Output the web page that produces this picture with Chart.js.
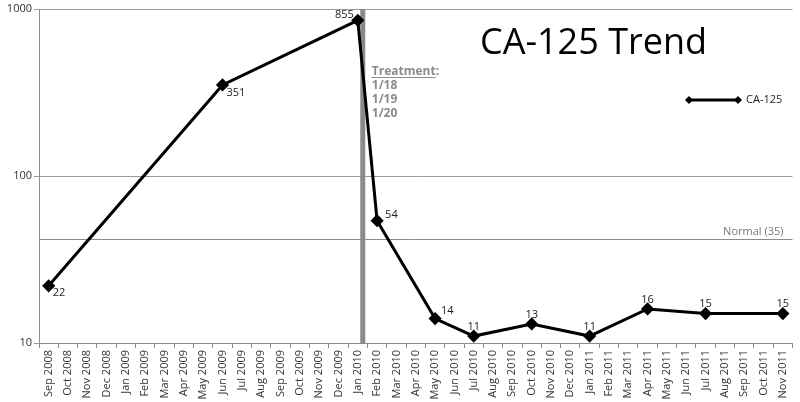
<!DOCTYPE html>
<html>
<head>
<meta charset="utf-8">
<script src="https://cdn.jsdelivr.net/npm/chart.js@4/dist/chart.umd.min.js"></script>
<style>
  html, body { margin: 0; padding: 0; background: #fff; }
  #wrap { width: 800px; height: 402px; }
</style>
</head>
<body>
<div id="wrap"><canvas id="myCanvas" width="800" height="402"></canvas></div>
<script>
// months Sep 2008 .. Nov 2011
const months = [
  "Sep 2008", "Oct 2008", "Nov 2008", "Dec 2008", "Jan 2009", "Feb 2009",
  "Mar 2009", "Apr 2009", "May 2009", "Jun 2009", "Jul 2009", "Aug 2009",
  "Sep 2009", "Oct 2009", "Nov 2009", "Dec 2009", "Jan 2010", "Feb 2010",
  "Mar 2010", "Apr 2010", "May 2010", "Jun 2010", "Jul 2010", "Aug 2010",
  "Sep 2010", "Oct 2010", "Nov 2010", "Dec 2010", "Jan 2011", "Feb 2011",
  "Mar 2011", "Apr 2011", "May 2011", "Jun 2011", "Jul 2011", "Aug 2011",
  "Sep 2011", "Oct 2011", "Nov 2011"
];

// CA-125 readings (null = no test that month)
const ca125 = [
  22, null, null, null, null, null, null, null, null, 351, null, null,
  null, null, null, null, 855, 54, null, null, 14, null, 11, null,
  null, 13, null, null, 11, null, null, 16, null, null, 15, null,
  null, null, 15
];

const yTicks = [10, 100, 1000];
const normalLevel = 42;       // where the reference draws its "Normal" line
const normalText = "Normal (35)";
const treatmentDates = ["1/18", "1/19", "1/20"];
const treatmentMonth = "Jan 2010";
const treatmentDay = 8;       // bar sits about a week into the month
const chartTitle = "CA-125 Trend";
const seriesName = "CA-125";

const FONT = "'Open Sans', 'DejaVu Sans', sans-serif";

// where each point's label sits relative to the point
function labelSpot(i, v) {
  if (i === 0 || v === 351) return "br";
  if (v === 855) return "tl";
  if (v === 54) return "r";
  if (v === 14) return "tr";
  return "t";
}

function treatmentX(chart) {
  const x = chart.scales.x;
  const idx = months.indexOf(treatmentMonth);
  const p0 = x.getPixelForValue(idx), p1 = x.getPixelForValue(idx + 1);
  return p0 + (p1 - p0) * treatmentDay / 31;
}

const extras = {
  id: "extras",
  beforeDatasetsDraw(chart) {
    const c = chart.ctx;
    const y = chart.scales.y;
    const a = chart.chartArea;
    c.save();
    // normal line
    const ny = Math.round(y.getPixelForValue(normalLevel)) + 0.5;
    c.strokeStyle = "#8c8c8c";
    c.lineWidth = 1;
    c.beginPath();
    c.moveTo(a.left, ny);
    c.lineTo(a.right, ny);
    c.stroke();
    c.fillStyle = "#7a7a7a";
    c.font = "11px " + FONT;
    c.textAlign = "right";
    c.textBaseline = "bottom";
    c.fillText(normalText, a.right - 9, ny - 2);

    // treatment bar
    const bx = treatmentX(chart);
    c.fillStyle = "#8a8a8a";
    c.fillRect(bx - 2.5, a.top, 5, a.bottom - a.top);
    c.restore();
  },
  afterDatasetsDraw(chart) {
    const c = chart.ctx;
    const meta = chart.getDatasetMeta(0);
    c.save();
    c.font = "11px " + FONT;
    c.fillStyle = "#222";
    meta.data.forEach((pt, i) => {
      const v = ca125[i];
      if (v == null) return;
      const s = labelSpot(i, v);
      let tx = pt.x, ty = pt.y;
      if (s === "br") { c.textAlign = "left"; c.textBaseline = "top"; tx += 4; ty += 2; }
      else if (s === "tl") { c.textAlign = "right"; c.textBaseline = "bottom"; tx -= 4; }
      else if (s === "r") { c.textAlign = "left"; c.textBaseline = "bottom"; tx += 8; }
      else if (s === "tr") { c.textAlign = "left"; c.textBaseline = "bottom"; tx += 6; ty -= 2; }
      else { c.textAlign = "center"; c.textBaseline = "bottom"; ty -= 4; }
      c.fillText(String(v), tx, ty);
    });

    // treatment note
    const bx = treatmentX(chart);
    c.fillStyle = "#8a8a8a";
    c.font = "bold 12px " + FONT;
    c.textAlign = "left";
    c.textBaseline = "alphabetic";
    const nx = bx + 9;
    c.fillText("Treatment:", nx, 75);
    const w = c.measureText("Treatment").width;
    c.fillRect(nx, 77, w, 1);
    treatmentDates.forEach((d, i) => c.fillText(d, nx, 89 + i * 14));

    // title
    c.fillStyle = "#000";
    c.font = "36px " + FONT;
    c.textAlign = "left";
    c.textBaseline = "alphabetic";
    c.fillText(chartTitle, 480, 54);

    // legend
    const ly = 100;
    c.strokeStyle = "#000";
    c.lineWidth = 3;
    c.beginPath();
    c.moveTo(689, ly);
    c.lineTo(738, ly);
    c.stroke();
    [689, 738].forEach(px => {
      c.beginPath();
      c.moveTo(px, ly - 4); c.lineTo(px + 4, ly); c.lineTo(px, ly + 4); c.lineTo(px - 4, ly);
      c.closePath();
      c.fillStyle = "#000";
      c.fill();
    });
    c.fillStyle = "#222";
    c.font = "11px " + FONT;
    c.textBaseline = "middle";
    c.fillText(seriesName, 746, ly);
    c.restore();
  }
};

const ctx = document.getElementById("myCanvas").getContext("2d");

const myChart = new Chart(ctx, {
  type: "line",
  data: {
    labels: months,
    datasets: [{
      label: seriesName,
      data: ca125,
      borderColor: "#000",
      backgroundColor: "#000",
      borderWidth: 3,
      pointStyle: "rectRot",
      pointRadius: 4.5,
      pointHoverRadius: 4.5,
      spanGaps: true,
      tension: 0
    }]
  },
  options: {
    responsive: false,
    animation: false,
    layout: { padding: { top: 9, right: 5, left: 0, bottom: 0 } },
    plugins: {
      legend: { display: false },
      tooltip: { enabled: false },
      title: { display: false }
    },
    scales: {
      x: {
        type: "category",
        offset: true,
        grid: {
          offset: true,
          drawOnChartArea: false,
          color: "#8c8c8c",
          tickLength: 5
        },
        border: { color: "#8c8c8c" },
        ticks: {
          autoSkip: false,
          minRotation: 90,
          maxRotation: 90,
          color: "#333",
          font: { family: FONT, size: 11 },
          padding: 2
        },
        afterFit(s) { s.height = 59; }
      },
      y: {
        type: "logarithmic",
        min: 10,
        max: 1000,
        afterBuildTicks(s) { s.ticks = yTicks.map(v => ({ value: v })); },
        grid: { color: "#9a9a9a", tickLength: 5 },
        border: { color: "#8c8c8c" },
        ticks: {
          color: "#333",
          font: { family: FONT, size: 11 },
          padding: 2,
          callback: v => String(v)
        },
        afterFit(s) { s.width = 39; }
      }
    }
  },
  plugins: [extras]
});
</script>
</body>
</html>
